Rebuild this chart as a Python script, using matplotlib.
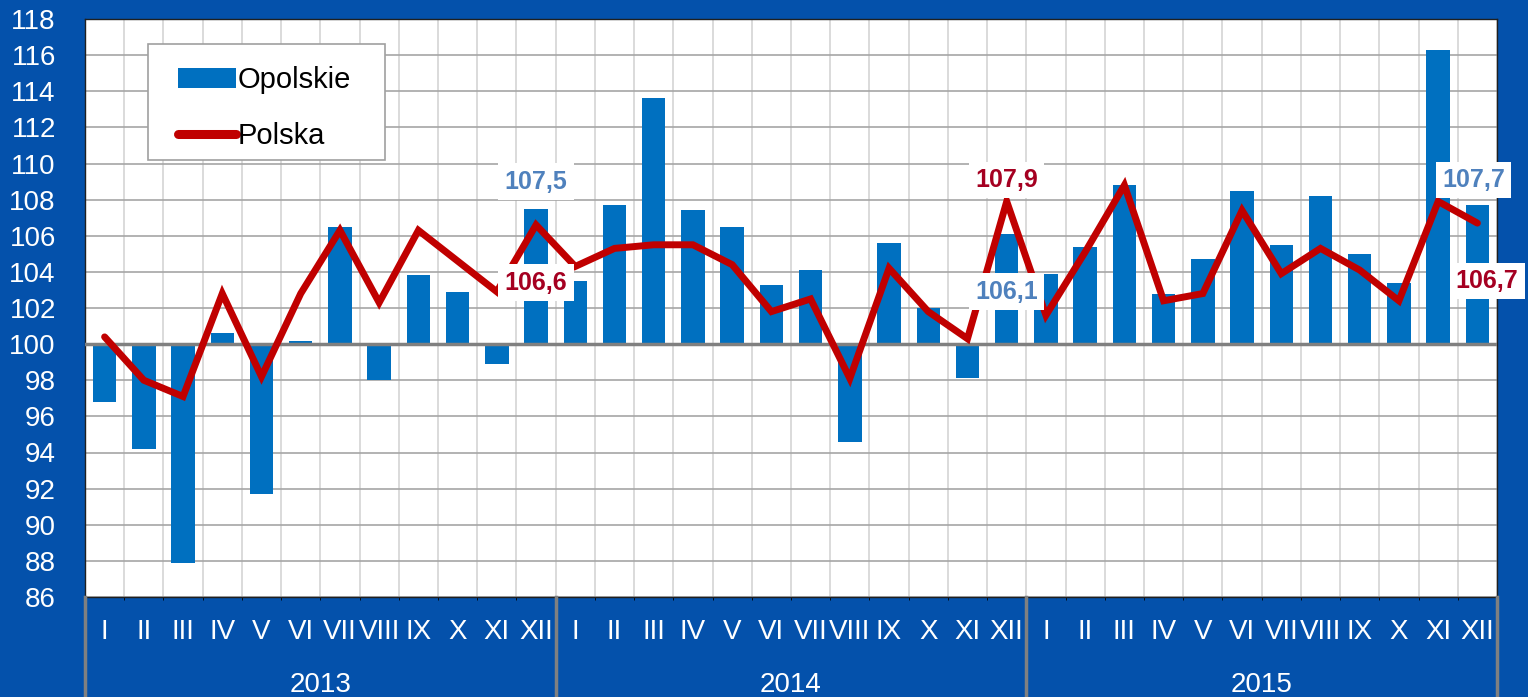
import matplotlib.pyplot as plt
from matplotlib.patches import Rectangle
import numpy as np

months = ['I', 'II', 'III', 'IV', 'V', 'VI', 'VII', 'VIII', 'IX', 'X', 'XI', 'XII']
years = ['2013', '2014', '2015']

# Opolskie (bars, base 100)
opolskie = [96.8, 94.2, 87.9, 100.6, 91.7, 100.2, 106.5, 98.0, 103.8, 102.9, 98.9, 107.5,
            103.5, 107.7, 113.6, 107.4, 106.5, 103.3, 104.1, 94.6, 105.6, 102.0, 98.1, 106.1,
            103.9, 105.4, 108.8, 102.8, 104.7, 108.5, 105.5, 108.2, 105.0, 103.4, 116.3, 107.7]
# Polska (line)
polska = [100.4, 98.0, 97.1, 102.8, 98.2, 102.8, 106.3, 102.3, 106.3, 104.6, 102.9, 106.6,
          104.3, 105.3, 105.5, 105.5, 104.4, 101.8, 102.5, 98.1, 104.2, 101.8, 100.3, 107.9,
          101.6, 105.1, 108.8, 102.4, 102.8, 107.4, 103.9, 105.3, 104.1, 102.4, 107.9, 106.7]

bg = '#0451ab'
bar_col = '#0070c0'
line_col = '#c00000'
lab_blue = '#4f81bd'
lab_red = '#a50021'

plt.rcParams['font.family'] = ['Liberation Sans', 'DejaVu Sans']

fig = plt.figure(figsize=(15.28, 6.97), dpi=100, facecolor=bg)
ax = fig.add_axes([85 / 1528, 1 - 597 / 697, 1412 / 1528, 578 / 697])
ax.set_facecolor('white')

n = len(opolskie)
x = np.arange(n)
op = np.array(opolskie)

bars = ax.bar(x, op - 100, bottom=100, width=0.6, color=bar_col, zorder=3, label='Opolskie')
ax.axhline(100, color='#808080', lw=2.5, zorder=4)
line, = ax.plot(x, polska, color=line_col, lw=5, zorder=5, label='Polska',
                solid_joinstyle='miter', solid_capstyle='round')

ax.set_xlim(-0.5, n - 0.5)
ax.set_ylim(86, 118)
ax.set_yticks(np.arange(86, 119, 2))
ax.set_xticks(x)
ax.set_xticklabels(months * 3)
ax.set_xticks(np.arange(-0.5, n, 1), minor=True)
ax.tick_params(axis='both', length=0, colors='white', labelsize=20)
ax.tick_params(axis='y', pad=21)
ax.tick_params(axis='x', pad=16)
ax.grid(axis='y', which='major', color='#a6a6a6', lw=1.2, zorder=0)
ax.grid(axis='x', which='minor', color='#d4d4d4', lw=1.2, zorder=0)
ax.set_axisbelow(True)
for sp in ax.spines.values():
    sp.set_color('#202020')
    sp.set_linewidth(1)

# year labels and separators below the axis
for i, yr in enumerate(years):
    ax.text(i * 12 + 5.5, -0.152, yr, transform=ax.get_xaxis_transform(),
            ha='center', va='center', color='white', fontsize=20)
for b in [-0.5, 11.5, 23.5, 35.5]:
    ax.plot([b, b], [0, -0.2], transform=ax.get_xaxis_transform(), color='#808080',
            lw=2.5, clip_on=False, zorder=6)

# data labels
box = dict(boxstyle='square,pad=0.25', fc='white', ec='none')
lab = dict(fontsize=18, fontweight='bold', ha='center', va='center', bbox=box, zorder=7)
ax.text(11, 109.0, '107,5', color=lab_blue, **lab)
ax.text(11, 103.4, '106,6', color=lab_red, **lab)
ax.text(23, 109.1, '107,9', color=lab_red, **lab)
ax.text(23, 102.9, '106,1', color=lab_blue, **lab)
ax.text(34.9, 109.1, '107,7', color=lab_blue, **lab)
ax.text(35.25, 103.5, '106,7', color=lab_red, clip_on=False, **lab)

# legend: own frame, legend without frame inside it
ax.add_patch(Rectangle((0.0446, 0.756), 0.1678, 0.2007, transform=ax.transAxes,
                       fc='white', ec='#a0a0a0', lw=1.2, zorder=8))
leg = ax.legend([bars, line], ['Opolskie', 'Polska'], loc='upper left',
                bbox_to_anchor=(0.0659, 0.918), borderaxespad=0, borderpad=0,
                frameon=False, handlelength=2.0, handletextpad=0.05,
                labelspacing=0.95, prop={'size': 21})
leg.set_zorder(9)
leg.get_lines()[0].set_linewidth(6.5)

fig.savefig('out.png', dpi=100, facecolor=bg)
